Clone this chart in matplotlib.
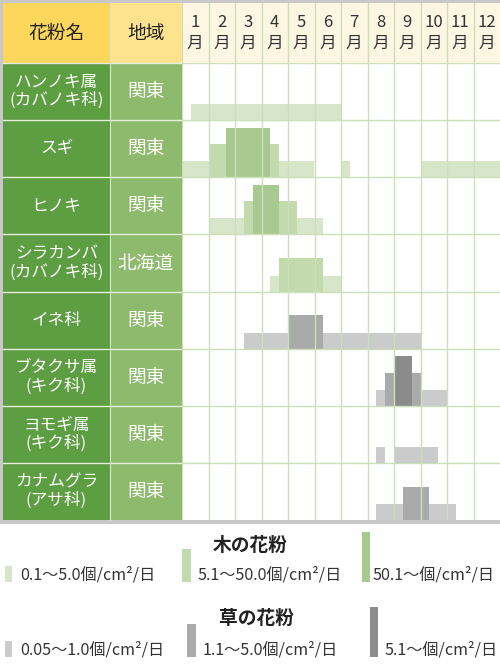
import matplotlib
matplotlib.use('Agg')
import matplotlib.pyplot as plt
from matplotlib.patches import Rectangle

plt.rcParams['font.family'] = ['Noto Sans CJK JP', 'DejaVu Sans']

# 表の中身
month_labels = [str(m) for m in range(1, 13)]
names = ['ハンノキ属\n(カバノキ科)', 'スギ', 'ヒノキ', 'シラカンバ\n(カバノキ科)',
         'イネ科', 'ブタクサ属\n(キク科)', 'ヨモギ属\n(キク科)', 'カナムグラ\n(アサ科)']
regions = ['関東', '関東', '関東', '北海道', '関東', '関東', '関東', '関東']
kinds = ['tree', 'tree', 'tree', 'tree', 'grass', 'grass', 'grass', 'grass']

# 旬ごと(上・中・下)の飛散レベル 0=なし 1〜3
alder =    [0,1,1, 1,1,1, 1,1,1, 1,1,1, 1,1,1, 1,1,1, 0,0,0, 0,0,0, 0,0,0, 0,0,0, 0,0,0, 0,0,0]
sugi =     [1,1,1, 2,2,3, 3,3,3, 3,2,1, 1,1,1, 0,0,0, 1,0,0, 0,0,0, 0,0,0, 1,1,1, 1,1,1, 1,1,1]
hinoki =   [0,0,0, 1,1,1, 1,2,3, 3,3,2, 2,1,1, 1,0,0, 0,0,0, 0,0,0, 0,0,0, 0,0,0, 0,0,0, 0,0,0]
birch =    [0,0,0, 0,0,0, 0,0,0, 0,1,2, 2,2,2, 2,1,1, 0,0,0, 0,0,0, 0,0,0, 0,0,0, 0,0,0, 0,0,0]
grass =    [0,0,0, 0,0,0, 0,1,1, 1,1,1, 2,2,2, 2,1,1, 1,1,1, 1,1,1, 1,1,1, 0,0,0, 0,0,0, 0,0,0]
ragweed =  [0,0,0, 0,0,0, 0,0,0, 0,0,0, 0,0,0, 0,0,0, 0,0,0, 0,1,2, 3,3,2, 1,1,1, 0,0,0, 0,0,0]
mugwort =  [0,0,0, 0,0,0, 0,0,0, 0,0,0, 0,0,0, 0,0,0, 0,0,0, 0,1,0, 1,1,1, 1,1,0, 0,0,0, 0,0,0]
hop =      [0,0,0, 0,0,0, 0,0,0, 0,0,0, 0,0,0, 0,0,0, 0,0,0, 0,1,1, 1,2,2, 2,1,1, 1,0,0, 0,0,0]
levels = [alder, sugi, hinoki, birch, grass, ragweed, mugwort, hop]

tree_legend = ['0.1～5.0個/cm²/日', '5.1～50.0個/cm²/日', '50.1～個/cm²/日']
grass_legend = ['0.05～1.0個/cm²/日', '1.1～5.0個/cm²/日', '5.1～個/cm²/日']

# 色
tree_colors = ['#d7e6c9', '#c3d9ae', '#a8c98f']
grass_colors = ['#cbcbcb', '#aaaaaa', '#8b8b8b']
level_h = [0.28, 0.58, 0.87]   # 行の高さに対する割合
grid_c = '#cddfba'

W, H = 500, 664
x_name, x_reg, x_cal, x_end = 3, 110, 182, 500
y_top, y_head, y_bot = 3, 63, 520
row_px = (y_bot - y_head) / len(names)

fig = plt.figure(figsize=(W / 100, H / 100), dpi=100)
bg = fig.add_axes([0, 0, 1, 1])
bg.set_xlim(0, W)
bg.set_ylim(H, 0)
bg.axis('off')

# 外枠のグレー
bg.add_patch(Rectangle((0, 0), W, y_top, color='#c8c8c8', lw=0))
bg.add_patch(Rectangle((0, 0), x_name, y_bot + 4, color='#c8c8c8', lw=0))
bg.add_patch(Rectangle((0, y_bot), W, 4, color='#c8c8c8', lw=0))

# 見出し
bg.add_patch(Rectangle((x_name, y_top), x_reg - x_name, y_head - y_top, color='#fdd65c', lw=0))
bg.add_patch(Rectangle((x_reg, y_top), x_cal - x_reg, y_head - y_top, color='#fee38f', lw=0))
bg.text((x_name + x_reg) / 2, (y_top + y_head) / 2, '花粉名', ha='center', va='center',
        fontsize=13.5, color='#222222')
bg.text((x_reg + x_cal) / 2, (y_top + y_head) / 2, '地域', ha='center', va='center',
        fontsize=13.5, color='#222222')

# 左の列
for i, (nm, rg) in enumerate(zip(names, regions)):
    t = y_head + i * row_px
    bg.add_patch(Rectangle((x_name, t), x_reg - x_name, row_px, color='#5e9e43', lw=0))
    bg.add_patch(Rectangle((x_reg, t), x_cal - x_reg, row_px, color='#8dba6c', lw=0))
    bg.text((x_name + x_reg) / 2, t + row_px / 2, nm, ha='center', va='center',
            fontsize=12, color='white', linespacing=1.1)
    bg.text((x_reg + x_cal) / 2, t + row_px / 2, rg, ha='center', va='center',
            fontsize=13.5, color='white')
for i in range(len(names)):
    y = y_head + i * row_px
    bg.plot([x_name, x_cal], [y, y], color='#e4eedb', lw=1)
bg.plot([x_reg, x_reg], [y_top, y_bot], color='#d9e8cc', lw=0.8)

# 月の見出し
hdr = fig.add_axes([x_cal / W, 1 - y_head / H, (x_end - x_cal) / W, (y_head - y_top) / H])
hdr.set_xlim(0, 12)
hdr.set_ylim(1, 0)
hdr.set_facecolor('#fdf6e2')
for s in hdr.spines.values():
    s.set_visible(False)
hdr.set_xticks([])
hdr.set_yticks([])
for m in range(1, 12):
    hdr.axvline(m, color=grid_c, lw=1)
hdr.axvline(0, color=grid_c, lw=1.5)
for m, lab in enumerate(month_labels):
    hdr.text(m + 0.5, 0.32, lab, ha='center', va='center', fontsize=12, color='#333333')
    hdr.text(m + 0.5, 0.68, '月', ha='center', va='center', fontsize=12, color='#333333')

# カレンダー本体
cal = fig.add_axes([x_cal / W, 1 - y_bot / H, (x_end - x_cal) / W, (y_bot - y_head) / H])
cal.set_xlim(0, 12)
cal.set_ylim(len(names), 0)
cal.set_facecolor('white')
for s in cal.spines.values():
    s.set_visible(False)
cal.set_xticks([])
cal.set_yticks([])

for row, (lv, kind) in enumerate(zip(levels, kinds)):
    cols = tree_colors if kind == 'tree' else grass_colors
    start = 0
    for p in range(1, len(lv) + 1):
        if p == len(lv) or lv[p] != lv[start]:
            if lv[start] > 0:
                cal.bar(start / 3, -level_h[lv[start] - 1], width=(p - start) / 3,
                        bottom=row + 1, align='edge', color=cols[lv[start] - 1],
                        linewidth=0, zorder=1)
            start = p

for m in range(0, 12):
    cal.axvline(m, color=grid_c, lw=1 if m else 1.5, zorder=2)
for r in range(0, len(names)):
    cal.axhline(r, color=grid_c, lw=1, zorder=2)

# 凡例
bg.text(250, 545, '木の花粉', ha='center', va='center', fontsize=13.5, fontweight='bold',
        color='#222222')
bg.text(256, 618, '草の花粉', ha='center', va='center', fontsize=13.5, fontweight='bold',
        color='#222222')
tree_sw_x = [5, 182, 362]
tree_tx_x = [20, 198, 373]
grass_sw_x = [5, 187, 370]
grass_tx_x = [20, 203, 385]
sw_w = [7, 9, 8]
for k in range(3):
    h = level_h[k] * row_px
    bg.add_patch(Rectangle((tree_sw_x[k], 582 - h), sw_w[k], h, color=tree_colors[k], lw=0))
    bg.text(tree_tx_x[k], 575, tree_legend[k], ha='left', va='center', fontsize=11.6,
            color='#333333')
    bg.add_patch(Rectangle((grass_sw_x[k], 657 - h), sw_w[k], h, color=grass_colors[k], lw=0))
    bg.text(grass_tx_x[k], 650, grass_legend[k], ha='left', va='center', fontsize=11.6,
            color='#333333')

fig.savefig('out.png', dpi=100)
